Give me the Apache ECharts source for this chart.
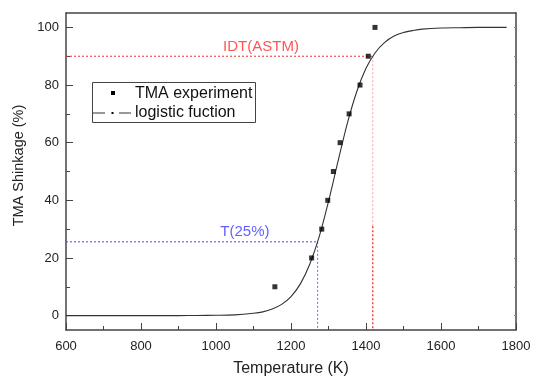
<!DOCTYPE html>
<html>
<head>
<meta charset="utf-8">
<script src="https://cdn.jsdelivr.net/npm/echarts@6/dist/echarts.min.js"></script>
<style>html,body{margin:0;padding:0;background:#fff}#c{width:534px;height:382px}</style>
</head>
<body>
<div id="c"></div>
<script>
// Experimental TMA points
const expT = [1157, 1255, 1282, 1298, 1313, 1331, 1355, 1384, 1406, 1424];
const expS = [10, 20, 30, 40, 50, 60, 70, 80, 90, 100];
// Logistic fit curve
const fitT = [600, 700, 800, 900, 950, 1000, 1050, 1100, 1125, 1150, 1175, 1200, 1225, 1250, 1275, 1300, 1325, 1350, 1375, 1400, 1425, 1450, 1475, 1500, 1525, 1550, 1600, 1650, 1700, 1775];
const fitS = [0, 0, 0, 0, 0.05, 0.1, 0.25, 0.8, 1.3, 2.3, 3.9, 6.6, 11.0, 17.8, 27.3, 39.6, 53.3, 66.6, 77.6, 85.8, 91.3, 94.8, 97.0, 98.2, 98.9, 99.4, 99.8, 99.9, 100, 100];
// Reference markers
const idtT = 1418, idtS = 90;
const t25T = 1271, t25S = 25.6;
const xTicks = [600, 800, 1000, 1200, 1400, 1600, 1800];
const yMajor = [0, 20, 40, 60, 80, 100];
const yMinor = [10, 30, 50, 70, 90];

const FONT = 'Liberation Sans, Arial, sans-serif';
const AX = '#444';
const chart = echarts.init(document.getElementById('c'));
const zip = (a, b) => a.map((v, i) => [v, b[i]]);

const yBase = { type: 'value', min: -5, max: 105, splitLine: { show: false } };

chart.setOption({
  animation: false,
  backgroundColor: '#fff',
  grid: { left: 66, top: 13, width: 450, height: 323, containLabel: false },
  xAxis: [
    {
      type: 'value', min: 600, max: 1800, interval: 200, position: 'bottom',
      name: 'Temperature (K)', nameLocation: 'middle', nameGap: 31,
      nameTextStyle: { fontFamily: FONT, fontSize: 16, color: '#222' },
      axisLine: { onZero: false, lineStyle: { color: AX, width: 1.5 } },
      axisTick: { inside: true, length: 7, lineStyle: { color: AX } },
      minorTick: { show: true, splitNumber: 2, length: 4, lineStyle: { color: AX } },
      axisLabel: { fontFamily: FONT, fontSize: 13, color: '#222', margin: 10,
        customValues: xTicks, formatter: v => String(v) },
      splitLine: { show: false }
    },
    {
      type: 'value', min: 600, max: 1800, interval: 200, position: 'top',
      axisLine: { onZero: false, lineStyle: { color: AX, width: 1.5 } },
      axisTick: { show: false }, axisLabel: { show: false }, splitLine: { show: false }
    }
  ],
  yAxis: [
    Object.assign({}, yBase, {
      position: 'left',
      name: 'TMA Shinkage (%)', nameLocation: 'middle', nameGap: 33,
      nameTextStyle: { fontFamily: FONT, fontSize: 14.5, color: '#222', padding: [0, 0, 0, 12] },
      axisLine: { onZero: false, lineStyle: { color: AX, width: 1.5 } },
      axisTick: { inside: true, length: 7, customValues: yMajor, lineStyle: { color: AX } },
      axisLabel: { fontFamily: FONT, fontSize: 13, color: '#222', margin: 7, customValues: yMajor }
    }),
    Object.assign({}, yBase, {
      position: 'left',
      axisLine: { show: false },
      axisTick: { inside: true, length: 4, customValues: yMinor, lineStyle: { color: AX } },
      axisLabel: { show: false }
    }),
    Object.assign({}, yBase, {
      position: 'right',
      axisLine: { onZero: false, lineStyle: { color: AX, width: 1.5 } },
      axisTick: { inside: true, length: 2, customValues: yMajor.concat(yMinor), lineStyle: { color: '#888' } },
      axisLabel: { show: false }
    })
  ],
  graphic: [
    { type: 'rect', shape: { x: 92.5, y: 82.5, width: 163, height: 40 },
      style: { fill: '#fff', stroke: '#444', lineWidth: 1 }, z: 100 },
    { type: 'rect', shape: { x: 111, y: 91, width: 4, height: 4 }, style: { fill: '#000' }, z: 101 },
    { type: 'text', x: 135, y: 93.5, z: 101,
      style: { text: 'TMA experiment', font: '16px ' + FONT, fill: '#111', verticalAlign: 'middle' } },
    { type: 'line', shape: { x1: 93, y1: 113, x2: 105, y2: 113 }, style: { stroke: '#333', lineWidth: 1 }, z: 101 },
    { type: 'rect', shape: { x: 111.5, y: 112, width: 2, height: 2 }, style: { fill: '#000' }, z: 101 },
    { type: 'line', shape: { x1: 119, y1: 113, x2: 131, y2: 113 }, style: { stroke: '#333', lineWidth: 1 }, z: 101 },
    { type: 'text', x: 135, y: 112.5, z: 101,
      style: { text: 'logistic fuction', font: '16px ' + FONT, fill: '#111', verticalAlign: 'middle' } }
  ],
  series: [
    { name: 'IDT h', type: 'line', xAxisIndex: 0, yAxisIndex: 0, symbol: 'none',
      data: [[600, idtS], [idtT, idtS]], lineStyle: { color: '#e23030', width: 1, type: [2, 2] }, z: 1 },
    { name: 'IDT v1', type: 'line', symbol: 'none',
      data: [[idtT, idtS], [idtT, 31]], lineStyle: { color: 'rgba(240,80,80,0.45)', width: 1.2, type: [2, 2] }, z: 1 },
    { name: 'IDT v2', type: 'line', symbol: 'none',
      data: [[idtT, 31], [idtT, -5]], lineStyle: { color: '#e83030', width: 1.3, type: [2, 2] }, z: 1 },
    { name: 'T25 h', type: 'line', symbol: 'none',
      data: [[600, t25S], [t25T, t25S]], lineStyle: { color: '#4848ff', width: 1, type: [2, 2] }, z: 1 },
    { name: 'T25 v', type: 'line', symbol: 'none',
      data: [[t25T, t25S], [t25T, -5]], lineStyle: { color: '#6868ff', width: 1, type: [2, 2] }, z: 1 },
    { name: 'logistic fuction', type: 'line', smooth: 0.3, symbol: 'none',
      data: zip(fitT, fitS), lineStyle: { color: '#333', width: 1.1 }, z: 3 },
    { name: 'TMA experiment', type: 'scatter', symbol: 'rect', symbolSize: 5,
      data: zip(expT, expS), itemStyle: { color: '#000' }, z: 4 },
    { name: 'labels', type: 'scatter', symbolSize: 0, z: 5,
      data: [
        { value: [1120, 93.4], label: { show: true, position: 'inside', formatter: 'IDT(ASTM)',
          fontFamily: FONT, fontSize: 15, color: '#ff2a2a' } },
        { value: [1077, 29.0], label: { show: true, position: 'inside', formatter: 'T(25%)',
          fontFamily: FONT, fontSize: 15, color: '#3a3aff' } }
      ] }
  ]
});
</script>
</body>
</html>
